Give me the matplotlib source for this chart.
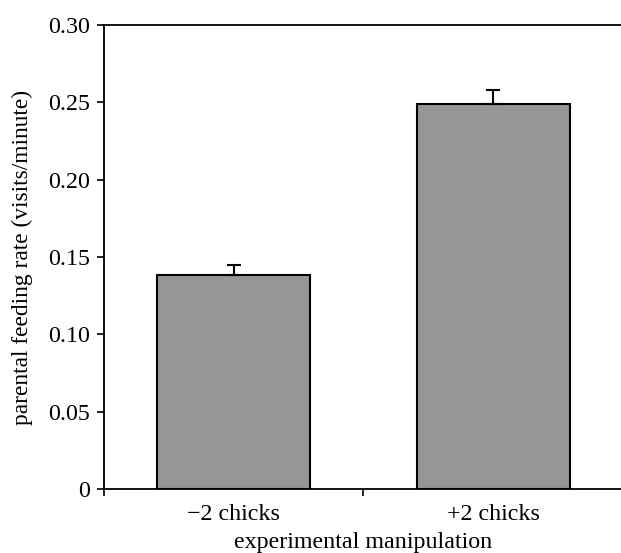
import matplotlib
matplotlib.use("Agg")
import matplotlib.pyplot as plt

categories = ["\u22122 chicks", "+2 chicks"]
values = [0.1384, 0.249]
errors = [0.0066, 0.009]
yticks = [0, 0.05, 0.10, 0.15, 0.20, 0.25, 0.30]
ytick_labels = ["0", "0.05", "0.10", "0.15", "0.20", "0.25", "0.30"]

plt.rcParams['font.family'] = ['Liberation Serif', 'DejaVu Serif']

fig = plt.figure(figsize=(6.21, 5.53), dpi=100)
ax = fig.add_axes([104/621, 1 - 489/553, 1.003 - 104/621, (489 - 25)/553])

x = list(range(len(categories)))
ax.bar(x, values, width=0.59, color="#969696", edgecolor="black", linewidth=1.5, zorder=2)
ax.errorbar(x, values, yerr=[[0]*len(errors), errors], fmt="none", ecolor="black",
            elinewidth=1.5, capsize=5, capthick=1.5, zorder=3)

ax.set_xlim(-0.5, 1.5)
ax.set_ylim(0, 0.30)
ax.set_yticks(yticks)
ax.set_yticklabels(ytick_labels, fontsize=17.3)
ax.set_xticks([-0.5, 0.5, 1.5])
ax.set_xticklabels([])
ax.set_xticks(x, minor=True)
ax.set_xticklabels(categories, minor=True, fontsize=17.3)
ax.tick_params(axis="x", which="minor", length=0, pad=11)
ax.tick_params(axis="x", which="major", direction="out", length=5, width=1.2)
ax.tick_params(axis="y", direction="out", length=5, width=1.2, pad=5)

for s in ["left", "bottom", "top", "right"]:
    ax.spines[s].set_linewidth(1.3)

ax.set_xlabel("experimental manipulation", fontsize=17.3, labelpad=5)
ax.set_ylabel("parental feeding rate (visits/minute)", fontsize=16.8, labelpad=11)

fig.savefig("out.png", dpi=100)
